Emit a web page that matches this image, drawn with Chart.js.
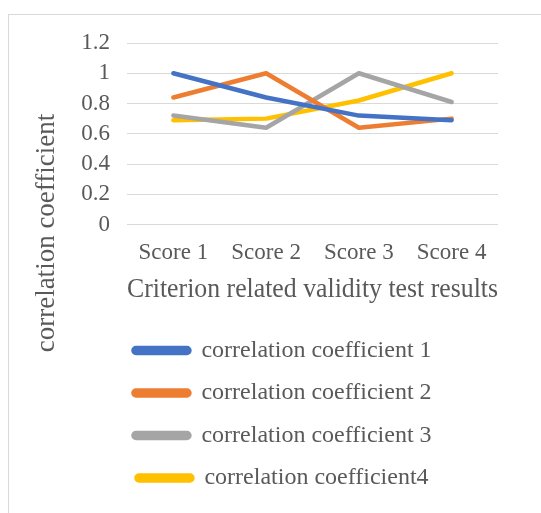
<!DOCTYPE html>
<html>
<head>
<meta charset="utf-8">
<script src="https://cdn.jsdelivr.net/npm/chart.js@4"></script>
<style>
  html, body { margin: 0; padding: 0; background: #fff; overflow: hidden; }
  #wrap { position: relative; width: 541px; height: 513px; }
  #frame { position: absolute; left: 8px; top: 14px; width: 700px; height: 700px; border: 1px solid #d9d9d9; pointer-events: none; }
  canvas { position: absolute; left: 0; top: 0; }
</style>
</head>
<body>
<div id="wrap">
  <div id="frame"></div>
  <canvas id="chart" width="541" height="513"></canvas>
</div>
<script>
const categories = ["Score 1", "Score 2", "Score 3", "Score 4"];
const coef1 = [1.0, 0.84, 0.72, 0.69];
const coef2 = [0.84, 1.0, 0.64, 0.70];
const coef3 = [0.72, 0.64, 1.0, 0.81];
const coef4 = [0.69, 0.70, 0.82, 1.0];
const seriesNames = ["correlation coefficient 1", "correlation coefficient 2", "correlation coefficient 3", "correlation coefficient4"];
const seriesColors = ["#4472c4", "#ed7d31", "#a5a5a5", "#ffc000"];

const FONT = "'Liberation Serif', 'Times New Roman', serif";
const TEXT = "#595959";

// y axis title spans the whole frame in the original, so draw it by hand
const yTitlePlugin = {
  id: "yTitle",
  afterDraw(chart) {
    const ctx = chart.ctx;
    ctx.save();
    ctx.translate(47, 233);
    ctx.rotate(-Math.PI / 2);
    ctx.font = "27px " + FONT;
    ctx.fillStyle = TEXT;
    ctx.textAlign = "center";
    ctx.textBaseline = "middle";
    ctx.fillText("correlation coefficient", 0, 0);
    ctx.restore();
  }
};

const allSeries = [coef1, coef2, coef3, coef4];

new Chart(document.getElementById("chart"), {
  type: "line",
  data: {
    labels: categories,
    datasets: allSeries.map((vals, i) => ({
      label: seriesNames[i],
      data: vals,
      borderColor: seriesColors[i],
      backgroundColor: seriesColors[i],
      borderWidth: 4.5,
      borderCapStyle: "round",
      borderJoinStyle: "round",
      pointRadius: 0,
      tension: 0,
      fill: false,
    })),
  },
  options: {
    responsive: false,
    animation: false,
    layout: { padding: { left: 67, right: 43, top: 43, bottom: 13 } },
    plugins: {
      tooltip: { enabled: false },
      legend: {
        position: "bottom",
        title: { display: true, text: " ", font: { size: 1 }, padding: { top: 0, bottom: 12.3 } },
        labels: {
          font: { family: FONT, size: 24 },
          color: TEXT,
          boxWidth: 56,
          boxHeight: 5,
          useBorderRadius: true,
          borderRadius: 2.5,
          padding: 18.5,
        },
      },
    },
    scales: {
      x: {
        offset: true,
        grid: { display: false, drawTicks: false },
        border: { display: false },
        ticks: { font: { family: FONT, size: 23 }, color: TEXT, padding: 15, maxRotation: 0 },
        title: {
          display: true,
          text: "Criterion related validity test results",
          font: { family: FONT, size: 28 },
          color: TEXT,
          padding: 0,
        },
        afterFit(scale) { scale.height = 82; },
      },
      y: {
        min: 0,
        max: 1.2,
        ticks: {
          stepSize: 0.2,
          autoSkip: false,
          font: { family: FONT, size: 23 },
          color: TEXT,
          padding: 17,
          callback: (v) => String(parseFloat(Number(v).toFixed(1))),
        },
        grid: { color: "#d9d9d9", lineWidth: 1, drawTicks: false },
        border: { display: false },
        afterFit(scale) { scale.width = 60; },
      },
    },
  },
  plugins: [yTitlePlugin],
});
</script>
</body>
</html>
